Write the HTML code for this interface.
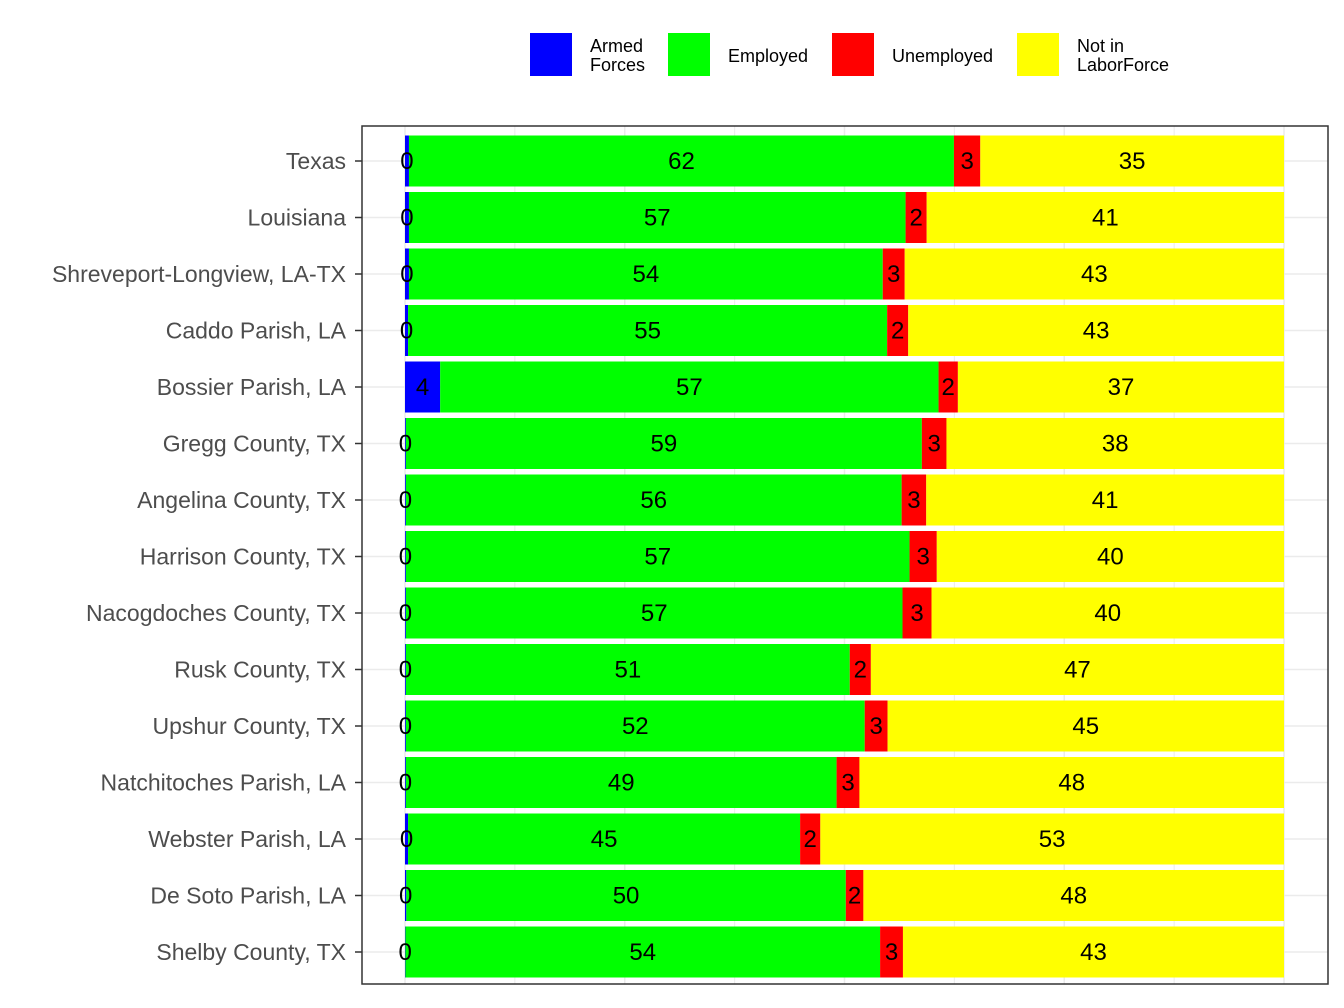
<!DOCTYPE html>
<html><head><meta charset="utf-8"><style>
body{margin:0;background:#fff;}
svg{display:block;font-family:"Liberation Sans",Arial,sans-serif;}
</style></head><body>
<svg id="chart" width="1344" height="1008" viewBox="0 0 1344 1008"></svg>
<script>
const categories=["Texas","Louisiana","Shreveport-Longview, LA-TX","Caddo Parish, LA","Bossier Parish, LA","Gregg County, TX","Angelina County, TX","Harrison County, TX","Nacogdoches County, TX","Rusk County, TX","Upshur County, TX","Natchitoches Parish, LA","Webster Parish, LA","De Soto Parish, LA","Shelby County, TX"];
const armed=[0.45,0.45,0.45,0.35,4.0,0.1,0.1,0.1,0.1,0.1,0.1,0.1,0.35,0.15,0.05];
const employed=[62.0,56.5,53.9,54.5,56.7,58.7,56.4,57.3,56.5,50.5,52.2,49.0,44.6,50.0,54.0];
const unemployed=[3.0,2.4,2.5,2.4,2.2,2.8,2.8,3.1,3.3,2.4,2.6,2.6,2.3,2.0,2.6];
const seriesNames=["Armed Forces","Employed","Unemployed","Not in LaborForce"];
const colors=["#0000ff","#00ff00","#ff0000","#ffff00"];
const NS="http://www.w3.org/2000/svg";
const svg=document.getElementById('chart');
function mk(t,a,p){const e=document.createElementNS(NS,t);for(const k in a)e.setAttribute(k,a[k]);(p||svg).appendChild(e);return e;}
const X0=405,X1=1284,PL=362,PR=1328,PT=126,PB=984;
const x=v=>X0+(X1-X0)*v/100;
const y=i=>161+i*56.5;
const BH=51;
// grid
for(let k=0;k<=8;k++){const gx=x(k*12.5);const g=mk('line',{x1:gx,x2:gx,y1:PT,y2:PB,stroke:'#ebebeb','stroke-width':k%2?1:1.5});

}
categories.forEach((c,i)=>{const g=mk('line',{x1:PL,x2:PR,y1:y(i),y2:y(i),stroke:'#ebebeb','stroke-width':1.5});

});
categories.forEach((c,i)=>{
 const nilf=100-armed[i]-employed[i]-unemployed[i];
 const vals=[armed[i],employed[i],unemployed[i],nilf];
 let acc=0;
 vals.forEach((v,s)=>{
  const r=mk('rect',{x:x(acc),y:y(i)-BH/2,width:x(acc+v)-x(acc),height:BH,fill:colors[s]});
  
  
  acc+=v;
 });
 acc=0;
 vals.forEach((v,s)=>{
  const t=mk('text',{x:x(acc+v/2),y:y(i)+8,'text-anchor':'middle','font-size':24,fill:'#000'});
  t.textContent=Math.round(v);
  
  
  acc+=v;
 });
 const l=mk('text',{x:346,y:y(i)+8,'text-anchor':'end','font-size':23,fill:'#4d4d4d'});
 l.textContent=c;
 
 
 const tk=mk('line',{x1:355,x2:362,y1:y(i),y2:y(i),stroke:'#333','stroke-width':1.5});
 
 
});
const border=mk('rect',{x:PL,y:PT,width:PR-PL,height:PB-PT,fill:'none',stroke:'#333','stroke-width':1.5});


// legend
const legX=[530,668,832,1017];
const legLines=[["Armed","Forces"],["Employed"],["Unemployed"],["Not in","LaborForce"]];
legX.forEach((lx,s)=>{
 const r=mk('rect',{x:lx,y:33,width:42,height:43,fill:colors[s]});
 
 
 const lines=legLines[s];
 lines.forEach((ln,j)=>{
  const ty=lines.length===1?62:52+j*19;
  const t=mk('text',{x:lx+60,y:ty,'font-size':18,fill:'#000'});
  t.textContent=ln;
  
  
 });
});
</script>
</body></html>
